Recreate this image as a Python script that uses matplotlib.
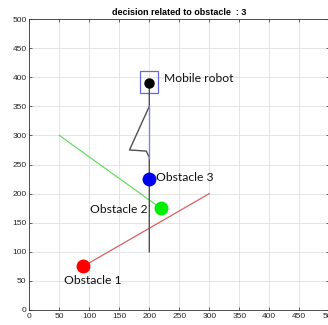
import matplotlib
matplotlib.use("Agg")
import matplotlib.pyplot as plt
from matplotlib.patches import Rectangle

# Scene data
robot_pos = (200, 390)
robot_box = (185, 372, 30, 38)  # x, y, width, height
path_x = [200, 200, 167, 195, 200, 200]
path_y = [390, 350, 275, 273, 262, 100]
planned_x = [200, 200]
planned_y = [350, 262]

obstacle_names = ["Obstacle 1", "Obstacle 2", "Obstacle 3"]
obstacle_x = [90, 219, 200]
obstacle_y = [75, 175, 225]
obstacle_colors = ["#ff0000", "#00ee00", "#0000ee"]

# Lines attached to obstacles 1 and 2
red_line_x = [90, 300]
red_line_y = [75, 200]
green_line_x = [50, 219]
green_line_y = [300, 175]

ticks = list(range(0, 501, 50))
title_text = "decision related to obstacle  : 3"

fig = plt.figure(figsize=(3.28, 3.25), dpi=100)
ax = fig.add_axes([29.3 / 328, 15 / 325, 300 / 328, 291 / 325])

ax.set_xlim(0, 500)
ax.set_ylim(0, 500)
ax.set_xticks(ticks)
ax.set_yticks(ticks)
ax.grid(True, color="#e0e0e0", linewidth=0.6)
ax.set_axisbelow(True)
ax.tick_params(direction="in", length=2.5, width=0.5, labelsize=6,
               top=True, right=True, pad=2, colors="#262626")
for lbl in ax.get_xticklabels() + ax.get_yticklabels():
    lbl.set_family("Liberation Sans")
for s in ax.spines.values():
    s.set_color("#333333")
    s.set_linewidth(0.6)

ax.plot(red_line_x, red_line_y, color="#d96060", lw=0.9)
ax.plot(green_line_x, green_line_y, color="#66dd66", lw=0.9)
ax.plot(path_x, path_y, color="#505050", lw=1.0)
ax.plot(planned_x, planned_y, color="#8080ee", lw=1.0)

ax.add_patch(Rectangle(robot_box[:2], robot_box[2], robot_box[3],
                       fill=False, edgecolor="#6666dd", lw=0.9))
ax.plot(*robot_pos, "o", color="black", markersize=6.5)

for x, y, c in zip(obstacle_x, obstacle_y, obstacle_colors):
    ax.plot(x, y, "o", color=c, markersize=9)

lab_font = dict(family="Lato", fontsize=8.7, color="#111111")
ax.text(224, 397, "Mobile robot", ha="left", va="center", **lab_font)
ax.text(212, 227, obstacle_names[2], ha="left", va="center", **lab_font)
ax.text(197, 172, obstacle_names[1], ha="right", va="center", **lab_font)
ax.text(106, 50, obstacle_names[0], ha="center", va="center", **lab_font)

ax.set_title(title_text, fontsize=6.5, fontweight="bold",
             family="Liberation Sans", pad=3)

fig.savefig("out.png", dpi=100)
